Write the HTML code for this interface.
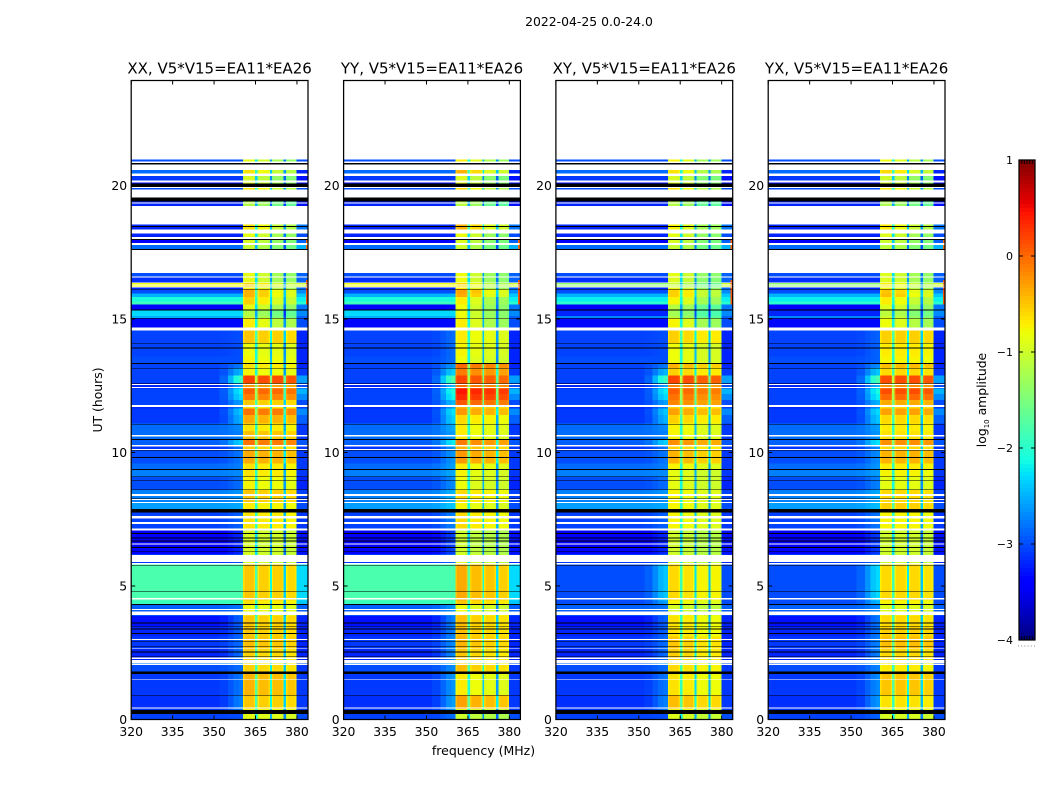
<!DOCTYPE html>
<html>
<head>
<meta charset="utf-8">
<title>2022-04-25 0.0-24.0</title>
<style>
html,body{margin:0;padding:0;background:#fff;}
svg{display:block;}
text{font-family:"DejaVu Sans","Liberation Sans",sans-serif;fill:#000;}
</style>
</head>
<body>
<svg id="chart" xmlns="http://www.w3.org/2000/svg" width="1050" height="800" viewBox="0 0 1050 800">
<rect x="0" y="0" width="1050" height="800" fill="#fff"/>
<text x="589" y="26" text-anchor="middle" font-size="12.4">2022-04-25 0.0-24.0</text>
<text x="483.5" y="755" text-anchor="middle" font-size="12.5">frequency (MHz)</text>
<text transform="translate(102,400) rotate(-90)" text-anchor="middle" font-size="12.4">UT (hours)</text>
<text transform="translate(986,400) rotate(-90)" text-anchor="middle" font-size="12.4">log<tspan font-size="7" dy="3">10</tspan><tspan dy="-3"> amplitude</tspan></text>
<g id="plots"></g>
</svg>
<script>
/* ---------- categories and tick labels ---------- */
const panelTitles = ["XX, V5*V15=EA11*EA26","YY, V5*V15=EA11*EA26","XY, V5*V15=EA11*EA26","YX, V5*V15=EA11*EA26"];
const freqTicks = [320,335,350,365,380];
const utTicks = [0,5,10,15,20];
const colorbarTicks = [1,0,-1,-2,-3,-4];

/* ---------- spectral windows (MHz) ---------- */
const windowStarts = [360.5,365.8,370.9,376.0];
const windowEnds = [364.9,370.2,375.2,379.9];

/* ---------- time segments: top edge of each segment, UT hours ---------- */
const utTops = [20.97,20.6,20.35,20.12,19.9,19.55,18.55,18.35,18.2,17.98,17.8,17.58,16.75,16.58,16.37,16.21,16.12,15.95,15.82,15.65,15.54,15.33,15.12,15.02,14.58,14.1,13.6,13.35,13.15,12.88,12.6,12.4,12.2,11.97,11.75,11.64,11.4,11.08,10.8,10.5,10.25,10.08,9.58,9.36,9.1,8.6,8.1,7.75,7.08,6.2,5.8,4.45,4.33,4.0,3.9,3.5,3.1,2.65,2.2,2.05,1.75,1.7,0.9,0.4,0.2];

/* ---------- log10 amplitude per segment ---------- */
const lowCo = [-3.0,-2.85,-3.1,-3.3,-3.0,-3.2,-3.2,-3.2,-3.2,-3.4,-2.85,-3.0,-3.0,-3.15,-0.8,-3.2,-3.0,-2.5,-2.1,-1.9,-3.4,-2.3,-2.5,-3.35,-3.05,-3.05,-3.0,-3.05,-3.05,-3.05,-3.2,-3.05,-3.05,-3.05,-3.2,-3.1,-3.1,-2.85,-2.85,-2.9,-3.1,-3.0,-2.85,-2.75,-3.0,-2.75,-2.6,-3.05,-3.4,-3.1,-1.8,-1.9,-2.9,-2.7,-3.3,-3.2,-3.1,-3.2,-2.8,-3.0,-3.0,-3.1,-3.15,-3.1,-3.05];
const lowCross = [-3.0,-2.85,-3.1,-3.3,-3.0,-3.2,-3.2,-3.2,-3.2,-3.4,-2.85,-3.0,-3.0,-3.15,-1.4,-3.2,-3.0,-2.5,-2.2,-2.0,-3.4,-3.2,-2.7,-3.35,-3.05,-3.05,-3.0,-3.05,-3.05,-3.05,-3.2,-3.05,-3.05,-3.05,-3.2,-3.1,-3.1,-2.85,-2.85,-2.9,-3.1,-3.0,-2.85,-2.75,-3.0,-2.75,-2.6,-3.05,-3.4,-3.1,-3.0,-3.0,-2.9,-2.7,-3.3,-3.2,-3.1,-3.2,-2.9,-3.0,-3.0,-3.1,-3.15,-3.1,-3.05];
const transitionAmp = [-3.5,-3.5,-3.5,-3.5,-3.5,-3.5,-3.5,-3.5,-3.5,-3.5,-3.5,-3.5,-3.5,-3.5,-3.5,-3.5,-3.5,-3.5,-3.5,-3.5,-3.5,-3.5,-3.5,-3.5,-3.0,-3.0,-3.0,-2.8,-2.5,-1.9,-2.6,-2.2,-2.3,-2.6,-2.8,-2.4,-2.5,-2.7,-2.75,-2.35,-2.8,-2.8,-2.75,-2.7,-2.85,-2.65,-2.55,-2.9,-3.2,-3.0,-2.4,-2.6,-2.8,-2.7,-2.9,-2.9,-2.85,-2.85,-2.6,-2.85,-2.85,-2.8,-2.75,-2.8,-3.0];
const tailCo = [-3.0,-3.2,-3.3,-3.3,-3.0,-3.3,-2.8,-2.9,-3.0,-2.9,-2.5,-3.0,-2.9,-2.9,-1.0,-2.9,-2.7,-2.4,-2.2,-2.0,-2.8,-2.7,-2.9,-3.0,-3.2,-3.2,-3.2,-3.2,-3.1,-2.6,-3.0,-2.5,-2.7,-3.0,-3.1,-2.7,-2.9,-3.1,-3.1,-2.95,-3.1,-3.1,-3.1,-3.1,-3.2,-3.05,-3.0,-3.1,-3.3,-3.2,-2.3,-2.4,-2.9,-2.9,-3.2,-3.2,-3.2,-3.2,-3.0,-3.1,-3.1,-3.1,-3.1,-3.1,-3.0];
const tailCross = [-3.0,-3.2,-3.3,-3.3,-3.0,-3.3,-2.8,-2.9,-3.0,-2.9,-2.5,-3.0,-2.9,-2.9,-1.0,-2.9,-2.7,-2.4,-2.2,-2.0,-2.8,-2.7,-2.9,-3.0,-3.2,-3.2,-3.2,-3.2,-3.1,-2.6,-3.0,-2.5,-2.7,-3.0,-3.1,-2.7,-2.9,-3.1,-3.1,-2.95,-3.1,-3.1,-3.1,-3.1,-3.2,-3.05,-3.0,-3.1,-3.3,-3.2,-3.0,-3.0,-2.9,-2.9,-3.2,-3.2,-3.2,-3.2,-3.0,-3.1,-3.1,-3.1,-3.1,-3.1,-3.0];
const xxBand = [-1.0,-0.8,-1.1,-1.0,-0.8,-1.3,-0.8,-0.9,-1.0,-1.1,-1.2,-1.0,-1.0,-1.0,-0.7,-0.9,-0.55,-0.55,-0.7,-0.7,-1.0,-1.3,-1.2,-0.85,-0.55,-0.85,-0.8,-0.7,-0.8,0.15,-0.3,0.0,-0.15,-0.55,-0.7,-0.1,-0.4,-0.7,-0.5,-0.1,-0.6,-0.4,-0.7,-0.7,-0.8,-0.55,-0.75,-0.7,-1.0,-1.0,-0.55,-0.7,-0.85,-0.85,-0.55,-0.55,-0.5,-0.6,-0.7,-0.6,-0.6,-0.45,-0.55,-0.8,-0.9];
const yyBand = [-0.9,-0.6,-1.1,-1.0,-0.8,-1.3,-0.6,-0.9,-1.0,-1.1,-1.2,-1.0,-1.0,-1.0,-0.8,-0.9,-0.5,-0.55,-0.9,-0.9,-1.0,-1.0,-1.0,-0.9,-0.8,-0.85,-0.9,-0.1,-0.2,0.1,-0.1,0.35,0.25,0.0,-0.5,-0.35,-0.7,-0.8,-0.8,-0.2,-0.5,-0.35,-0.8,-0.85,-0.9,-0.7,-0.85,-0.7,-1.1,-1.0,-0.45,-0.6,-0.9,-0.7,-0.55,-0.55,-0.5,-0.6,-0.7,-0.55,-0.6,-0.8,-0.4,-0.9,-1.1];
const xyBand = [-0.9,-0.8,-1.1,-1.0,-0.8,-1.3,-0.9,-0.95,-1.0,-1.1,-1.2,-1.0,-1.0,-1.05,-1.2,-1.0,-0.7,-0.7,-0.9,-0.9,-1.3,-1.4,-1.3,-0.9,-0.6,-0.85,-0.85,-0.45,-0.6,0.15,-0.2,0.0,-0.1,-0.2,-0.6,-0.35,-0.6,-0.8,-0.8,-0.25,-0.6,-0.45,-0.8,-0.9,-0.9,-0.8,-0.8,-0.8,-1.05,-1.0,-0.65,-0.8,-1.0,-0.9,-0.7,-0.7,-0.55,-0.6,-0.7,-0.65,-0.7,-0.7,-0.5,-0.8,-0.95];
const yxBand = [-0.9,-0.7,-1.1,-1.0,-0.8,-1.3,-0.8,-0.9,-1.0,-1.1,-1.2,-1.0,-1.0,-1.0,-0.8,-0.9,-0.6,-0.55,-0.8,-0.8,-1.0,-1.2,-1.1,-0.9,-0.55,-0.7,-0.75,-0.45,-0.6,0.15,-0.2,0.15,0.0,-0.35,-0.6,-0.3,-0.6,-0.7,-0.65,-0.2,-0.6,-0.4,-0.7,-0.75,-0.85,-0.6,-0.55,-0.75,-1.0,-1.0,-0.6,-0.75,-0.9,-0.8,-0.6,-0.55,-0.45,-0.6,-0.7,-0.7,-0.6,-0.5,-0.65,-0.8,-0.95];

/* per-panel, per-window level adjustments */
const xxWindowTrim = [0.05,0,0,-0.05];
const yyWindowTrim = [0.1,0,-0.05,-0.1];
const xyWindowTrim = [0.05,0,-0.1,-0.1];
const yxWindowTrim = [0,0,0,-0.05];
const lateWindowTrim = [0.1,0,-0.25,-0.3];
const transitionTrim = [0,0.15,0,0.1];
const gapTrim = [0.35,0,-0.2];

/* ---------- hot channels at the top of the band ---------- */
const hotEdgeTops = [18.0,16.47];
const hotEdgeBottoms = [17.6,15.54];
const hotEdgeAmps = [0.0,0.1];

/* ---------- unobserved (white) time ranges, UT hours ---------- */
const whiteTops = [20.895,20.794,20.445,20.183,19.939,19.846,19.358,19.227,18.346,18.065,17.84,17.597,16.585,16.371,16.285,16.21,14.673,12.575,12.462,11.78,10.656,10.277,10.138,8.452,8.264,8.152,7.627,7.402,7.151,6.589,6.165,5.854,4.543,4.142,4.04,3.017,2.331,2.23,2.08,1.518,0.457];
const whiteBottoms = [20.839,20.577,20.352,20.108,19.902,19.546,19.332,18.534,18.196,17.972,17.766,16.716,16.547,16.341,16.255,16.188,14.561,12.526,12.417,11.701,10.607,10.232,10.101,8.377,8.216,8.103,7.526,7.316,7.076,6.552,5.892,5.802,4.49,4.104,3.917,2.98,2.268,2.106,2.043,1.492,0.42];

/* ---------- flagged (black) time ranges, UT hours ---------- */
const blackTops = [20.839,20.071,19.546,18.478,17.998,17.623,16.124,15.348,15.037,14.1,13.931,13.35,13.174,12.601,11.075,10.502,10.101,9.827,9.377,9.108,8.95,8.639,8.302,7.89,6.979,6.814,6.701,6.454,6.315,5.791,4.816,4.329,3.628,3.504,3.403,3.231,2.942,2.755,2.541,2.38,1.807,0.918,0.356];
const blackBottoms = [20.794,19.939,19.396,18.44,17.96,17.586,16.098,15.322,15.011,14.074,13.901,13.324,13.144,12.575,11.049,10.476,10.075,9.801,9.351,9.081,8.924,8.613,8.276,7.751,6.953,6.788,6.675,6.428,6.289,5.764,4.79,4.291,3.602,3.478,3.377,3.205,2.916,2.729,2.515,2.354,1.705,0.896,0.206];

/* ---------- panel wiring ---------- */
const panelBands = [xxBand,yyBand,xyBand,yxBand];
const panelTrims = [xxWindowTrim,yyWindowTrim,xyWindowTrim,yxWindowTrim];
const panelLows = [lowCo,lowCo,lowCross,lowCross];
const panelTails = [tailCo,tailCo,tailCross,tailCross];
const panelKeys = ["xx","yy","xy","yx"];

/* ---------- layout ---------- */
const panelLefts = [131.2,343.6,555.9,768.2];
const panelWidth = 176.8;
const plotTop = 80.5, plotBottom = 719.5;
const pxPerMHz = panelWidth / 64;
const pxPerHour = 26.7;
const cbarLeft = 1019, cbarRight = 1035, cbarTop = 160, cbarBottom = 640;

const NS = "http://www.w3.org/2000/svg";
const root = document.getElementById("plots");

function mk(tag, attrs, parent) {
  const el = document.createElementNS(NS, tag);
  for (const k in attrs) el.setAttribute(k, attrs[k]);
  parent.appendChild(el);
  return el;
}
function xOf(p, mhz) { return panelLefts[p] + (mhz - 320) * pxPerMHz; }
function yOf(ut) { return plotBottom - ut * pxPerHour; }

function jetChannel(t, pts) {
  for (let i = 1; i < pts.length; i++) {
    if (t <= pts[i][0]) {
      const a = pts[i - 1], b = pts[i];
      return a[1] + (b[1] - a[1]) * (t - a[0]) / (b[0] - a[0]);
    }
  }
  return pts[pts.length - 1][1];
}
function jet(logAmp) {
  const t = Math.max(0, Math.min(1, (logAmp + 4) / 5));
  const r = jetChannel(t, [[0,0],[0.35,0],[0.66,1],[0.89,1],[1,0.5]]);
  const g = jetChannel(t, [[0,0],[0.125,0],[0.375,1],[0.64,1],[0.91,0],[1,0]]);
  const b = jetChannel(t, [[0,0.5],[0.11,1],[0.34,1],[0.65,0],[1,0]]);
  return "rgb(" + Math.round(r * 255) + "," + Math.round(g * 255) + "," + Math.round(b * 255) + ")";
}

function drawCell(layer, p, f0, f1, topUT, botUT, value) {
  const x0 = xOf(p, f0), x1 = xOf(p, f1), y0 = yOf(topUT), y1 = yOf(botUT);
  const cell = mk("rect", {x: x0.toFixed(2), y: y0.toFixed(2), width: (x1 - x0).toFixed(2), height: (y1 - y0).toFixed(2), fill: jet(value)}, layer);
  
  
}

function drawPanel(p) {
  const key = panelKeys[p];
  const g = mk("g", {}, root);
  
  

  const left = panelLefts[p], right = left + panelWidth;
  const bg = mk("rect", {x: left, y: plotTop, width: panelWidth, height: plotBottom - plotTop, fill: "#fff"}, g);
  
  

  const cells = mk("g", {"shape-rendering": "crispEdges"}, g);
  
  

  const bands = panelBands[p], lows = panelLows[p], tails = panelTails[p], trims = panelTrims[p];
  for (let i = 0; i < utTops.length; i++) {
    const top = utTops[i];
    const bot = i + 1 < utTops.length ? utTops[i + 1] : 0;
    const low = lows[i];
    const trans = Math.max(low, transitionAmp[i] + transitionTrim[p]);
    drawCell(cells, p, 320, 352, top, bot, low);
    drawCell(cells, p, 352, 355, top, bot, low + (trans - low) * 0.15);
    drawCell(cells, p, 355, 357, top, bot, low + (trans - low) * 0.5);
    drawCell(cells, p, 357, 359, top, bot, low + (trans - low) * 0.85);
    drawCell(cells, p, 359, windowStarts[0], top, bot, trans);
    for (let w = 0; w < windowStarts.length; w++) {
      const s = windowStarts[w], e = windowEnds[w];
      let v = bands[i] + trims[w];
      if (top > 15) v += lateWindowTrim[w];
      drawCell(cells, p, s, s + 0.5, top, bot, v - 0.14);
      drawCell(cells, p, s + 0.5, e - 0.5, top, bot, v);
      drawCell(cells, p, e - 0.5, e, top, bot, v - 0.14);
      const gapEnd = w + 1 < windowStarts.length ? windowStarts[w + 1] : e;
      if (gapEnd > e) drawCell(cells, p, e, gapEnd, top, bot, bands[i] - 1.6 + gapTrim[w]);
    }
    drawCell(cells, p, windowEnds[3], 384, top, bot, tails[i]);
  }
  for (let i = 0; i < hotEdgeTops.length; i++) {
    drawCell(cells, p, 383.2, 384, hotEdgeTops[i], hotEdgeBottoms[i], hotEdgeAmps[i]);
  }
  for (let i = 0; i < whiteTops.length; i++) {
    const gap = mk("rect", {x: left, y: yOf(whiteTops[i]).toFixed(2), width: panelWidth, height: ((whiteTops[i] - whiteBottoms[i]) * pxPerHour).toFixed(2), fill: "#fff"}, cells);
    
    
  }
  for (let i = 0; i < blackTops.length; i++) {
    const flag = mk("rect", {x: left, y: yOf(blackTops[i]).toFixed(2), width: panelWidth, height: ((blackTops[i] - blackBottoms[i]) * pxPerHour).toFixed(2), fill: "#000"}, cells);
    
    
  }

  const frame = mk("rect", {x: left, y: plotTop, width: panelWidth, height: plotBottom - plotTop, fill: "none", stroke: "#000", "stroke-width": 1.25}, g);
  
  

  const title = mk("text", {x: left + panelWidth / 2, y: 73.5, "text-anchor": "middle", "font-size": 15}, g);
  title.textContent = panelTitles[p];
  
  

  freqTicks.forEach(function (f) {
    const x = xOf(p, f);
    const tb = mk("line", {x1: x, x2: x, y1: plotBottom, y2: plotBottom - 4, stroke: "#000"}, g);
    
    
    const tt = mk("line", {x1: x, x2: x, y1: plotTop, y2: plotTop + 4, stroke: "#000"}, g);
    
    
    const lab = mk("text", {x: x, y: 736, "text-anchor": "middle", "font-size": 12.4}, g);
    lab.textContent = f;
    
    
  });
  utTicks.forEach(function (u) {
    const y = yOf(u);
    const tl = mk("line", {x1: left, x2: left + 4, y1: y, y2: y, stroke: "#000"}, g);
    
    
    const tr = mk("line", {x1: right, x2: right - 4, y1: y, y2: y, stroke: "#000"}, g);
    
    
    const lab = mk("text", {x: left - 4, y: y + 4.5, "text-anchor": "end", "font-size": 12.4}, g);
    lab.textContent = u;
    
    
  });
}

function drawColorbar() {
  const g = mk("g", {}, root);
  
  
  const h = cbarBottom - cbarTop;
  const steps = 120;
  const ramp = mk("g", {"shape-rendering": "crispEdges"}, g);
  
  
  const top = colorbarTicks[0], bottom = colorbarTicks[colorbarTicks.length - 1];
  for (let i = 0; i < steps; i++) {
    const v = top + (bottom - top) * (i + 0.5) / steps;
    mk("rect", {x: cbarLeft, y: cbarTop + i * h / steps, width: cbarRight - cbarLeft, height: h / steps + 0.5, fill: jet(v)}, ramp);
  }
  const frame = mk("rect", {x: cbarLeft, y: cbarTop, width: cbarRight - cbarLeft, height: h, fill: "none", stroke: "#000", "stroke-width": 1.25}, g);
  
  
  colorbarTicks.forEach(function (v) {
    const y = cbarTop + (top - v) / (top - bottom) * h;
    const a = mk("line", {x1: cbarLeft, x2: cbarLeft + 4, y1: y, y2: y, stroke: "#000"}, g);
    
    
    const b = mk("line", {x1: cbarRight, x2: cbarRight - 4, y1: y, y2: y, stroke: "#000"}, g);
    
    
    const lab = mk("text", {x: 1013, y: y + 4, "text-anchor": "end", "font-size": 11}, g);
    lab.textContent = v < 0 ? "\u2212" + Math.abs(v) : String(v);
    
    
  });
  for (let i = 1; i <= 5; i++) {
    const x = cbarLeft + i * (cbarRight - cbarLeft) / 6;
    const t1 = mk("line", {x1: x, x2: x, y1: cbarTop, y2: cbarTop + 4, stroke: "#000"}, g);
    
    
    const t2 = mk("line", {x1: x, x2: x, y1: cbarBottom, y2: cbarBottom - 4, stroke: "#000"}, g);
    
    
  }
  for (let i = 0; i < 6; i++) {
    const d = mk("rect", {x: 1018 + i * 3.2, y: 645.5, width: 1, height: 1, fill: "#888"}, g);
    
    
  }
}

for (let p = 0; p < panelTitles.length; p++) drawPanel(p);
drawColorbar();
</script>
</body>
</html>
